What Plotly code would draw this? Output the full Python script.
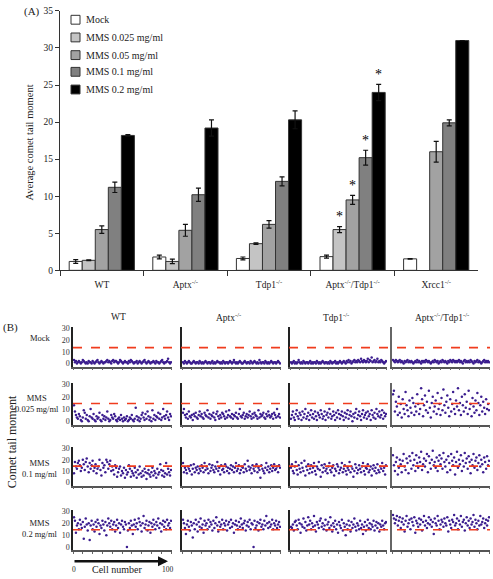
import numpy as np
import plotly.graph_objects as go

W, H = 493, 579
def px(x): return x / W
def py(y): return 1 - y / H

SERIF = "Liberation Serif, Times New Roman, serif"

# ---------------- Panel A data ----------------
groups = ["WT", "Aptx<sup>-/-</sup>", "Tdp1<sup>-/-</sup>",
          "Aptx<sup>-/-</sup>/Tdp1<sup>-/-</sup>", "Xrcc1<sup>-/-</sup>"]
doses = ["Mock", "MMS 0.025 mg/ml", "MMS 0.05 mg/ml", "MMS 0.1 mg/ml", "MMS 0.2 mg/ml"]
mean_mock = [1.2, 1.8, 1.6, 1.85, 1.55]
mean_025 = [1.35, 1.2, 3.6, 5.5, None]
mean_05 = [5.5, 5.4, 6.2, 9.5, 16.0]
mean_1 = [11.2, 10.2, 12.0, 15.2, 19.9]
mean_2 = [18.2, 19.2, 20.3, 24.0, 31.0]
err_mock = [0.25, 0.25, 0.2, 0.2, 0.05]
err_025 = [0.05, 0.3, 0.1, 0.4, 0]
err_05 = [0.5, 0.8, 0.5, 0.6, 1.4]
err_1 = [0.7, 0.9, 0.6, 1.0, 0.4]
err_2 = [0.1, 1.1, 1.2, 1.1, 0]
bar_colors = ["#ffffff", "#c4c4c4", "#a2a2a2", "#808080", "#000000"]
star_group = groups[3]
star_doses = [1, 2, 3, 4]

# ---------------- Panel B data (comet tail moment per cell) ----------------
col_names = ["WT", "Aptx<sup>-/-</sup>", "Tdp1<sup>-/-</sup>", "Aptx<sup>-/-</sup>/Tdp1<sup>-/-</sup>"]
row_names = ["Mock", "MMS<br>0.025 mg/ml", "MMS<br>0.1 mg/ml", "MMS<br>0.2 mg/ml"]
threshold = [13.6, 14.5, 14.3, 14.5]

mock_wt = [3,1,2,0,1,2,1,0,1,3,2,1,0,1,0,2,1,1,0,2,1,0,1,2,3,1,0,1,2,1,0,1,1,2,3,1,2,1,0,2,3,1,2,2,1,0,1,3,2,1,0,1,2,1,1,0,2,1,3,2,1,0,1,1,2,0,1,2,1,0,1,2,3,1,0,1,2,1,0,1,1,2,1,0,2,1,1,0,1,2,3,1,0,1,1,2,4,1,0,1]
mock_aptx = [1,0,2,1,0,1,2,1,0,0,1,2,1,0,1,1,0,2,1,0,1,0,1,2,1,0,1,1,0,1,2,0,1,0,1,2,1,1,0,1,0,2,1,0,1,1,0,1,2,1,0,1,3,1,0,1,0,1,2,1,0,0,1,2,1,0,1,1,0,2,1,0,1,2,1,0,1,0,3,1,0,1,1,0,2,1,0,1,0,1,2,1,0,1,1,0,1,2,1,0]
mock_tdp1 = [1,0,1,2,0,1,0,1,3,1,0,1,0,2,1,0,1,1,0,1,2,0,1,0,1,1,0,2,1,0,1,0,1,2,1,0,1,1,0,1,0,2,1,0,1,1,2,0,1,0,1,2,1,0,1,2,1,0,2,1,3,1,2,0,1,2,3,1,2,1,3,2,1,4,2,1,3,2,1,2,4,1,3,2,5,1,2,3,1,2,4,1,2,1,3,2,1,0,1,2]
mock_dko = [3,2,1,3,2,1,2,3,1,2,1,0,2,1,2,3,1,2,1,2,1,0,1,2,1,3,1,2,1,0,2,1,2,1,3,2,1,2,1,0,1,2,1,3,2,1,2,0,1,2,1,3,2,1,2,1,0,2,1,3,2,1,3,2,1,2,1,2,3,1,2,1,0,2,3,1,2,1,2,1,3,2,1,0,2,1,2,3,1,2,1,0,1,2,3,1,2,1,2,1]

low_wt = [13,8,5,3,2,6,4,1,0,3,9,7,2,5,1,0,4,10,3,2,6,1,0,4,2,3,7,1,0,5,2,4,1,3,8,2,0,1,5,3,2,6,4,1,0,2,3,1,5,2,0,3,1,2,4,0,1,3,2,5,1,0,2,11,4,1,3,0,2,5,7,3,1,6,2,8,4,1,3,0,9,2,5,1,4,3,7,2,6,1,3,10,4,2,5,8,3,1,6,4]
low_aptx = [7,10,5,3,6,2,8,4,3,5,1,6,4,7,3,2,5,8,4,6,3,2,7,5,4,9,3,6,2,5,4,7,3,1,6,8,4,2,5,3,7,6,4,2,8,3,5,9,4,3,6,2,5,4,7,3,2,6,10,4,3,5,7,2,4,6,3,5,8,4,2,6,3,7,5,4,2,9,3,6,4,5,7,3,2,6,4,8,5,3,4,6,2,7,5,3,10,4,6,3]
low_tdp1 = [2,5,8,3,1,6,9,4,2,7,5,1,8,3,6,10,2,4,7,1,5,9,3,6,2,8,4,1,7,5,3,9,6,2,4,8,1,5,7,3,10,6,2,4,8,5,1,7,3,9,6,2,5,8,4,1,7,3,6,9,2,5,8,4,0,6,3,7,10,2,5,8,4,1,6,9,3,5,7,2,8,4,6,1,9,5,3,7,2,10,6,4,8,3,5,9,2,7,4,6]
low_dko = [22,25,8,16,12,5,20,7,14,3,18,10,6,24,13,9,4,17,11,7,19,15,5,12,8,22,14,6,10,27,18,4,13,21,9,16,7,25,11,3,15,20,8,12,17,6,23,10,14,5,19,9,26,13,7,16,21,11,4,18,8,14,24,10,6,17,12,27,9,15,5,20,13,8,22,11,16,6,25,10,14,4,19,12,7,17,9,23,15,5,13,20,8,16,11,6,18,10,14,9]

mid_wt = [8,18,14,12,17,19,15,10,13,20,16,11,18,21,14,9,17,12,15,19,10,13,16,8,12,14,20,11,6,17,13,15,9,20,18,12,16,19,10,14,11,7,15,13,5,9,12,14,6,10,8,13,4,11,7,9,15,12,5,10,8,6,13,9,4,11,7,14,8,5,10,6,12,9,3,8,11,7,5,9,13,6,10,8,4,12,7,9,16,11,6,10,5,8,17,7,12,9,6,11]
mid_aptx = [17,9,13,11,8,14,12,10,15,7,12,16,9,13,11,14,8,12,10,15,13,9,17,11,14,12,8,16,10,13,15,11,9,14,12,18,10,13,7,15,11,12,9,16,14,10,13,8,12,15,11,14,9,13,17,10,12,15,8,11,14,13,9,16,12,10,19,14,11,13,8,15,12,10,14,16,9,13,11,4,15,12,10,8,13,17,11,14,9,12,15,10,13,16,11,12,14,9,15,13]
mid_tdp1 = [13,16,10,8,14,18,11,7,15,12,9,17,13,10,19,6,14,11,16,8,12,15,9,13,17,10,7,14,12,18,11,5,15,9,13,16,10,12,8,14,17,11,9,13,15,6,12,10,16,14,8,11,13,17,9,12,15,10,7,13,11,18,9,14,12,5,10,16,13,8,11,15,12,9,14,17,10,7,13,12,16,9,11,14,6,12,15,10,13,8,16,11,9,14,12,17,10,13,7,15]
mid_dko = [24,15,10,18,22,7,13,20,16,9,19,25,14,11,21,17,8,23,19,12,26,15,20,10,24,17,13,22,18,27,11,16,21,14,19,25,9,23,17,12,20,28,15,18,13,22,10,19,24,16,21,12,26,18,14,20,9,23,17,11,25,19,15,22,7,18,27,13,20,16,24,10,19,14,26,17,21,12,23,18,8,20,15,25,13,19,22,11,17,24,14,20,16,9,22,18,12,23,15,19]

high_wt = [25,22,12,18,20,15,23,19,16,21,7,17,24,19,14,20,6,18,22,15,19,13,21,17,23,20,11,18,16,22,19,14,21,10,18,24,20,17,22,15,19,21,13,18,23,16,20,12,19,22,17,15,21,19,0,14,20,16,22,18,11,19,23,17,20,15,24,21,18,13,20,26,16,19,22,14,18,21,12,20,17,23,19,15,21,18,24,16,20,13,19,22,17,21,15,23,18,20,16,22]
high_aptx = [23,20,16,11,19,22,17,14,21,18,8,20,15,23,19,13,21,17,24,16,19,12,22,18,20,15,23,17,21,19,14,22,16,20,25,18,13,21,17,19,23,15,20,18,22,14,19,21,16,23,17,20,12,19,22,18,15,21,17,24,19,16,20,22,14,18,21,17,23,15,20,19,0,22,16,18,21,14,20,23,17,19,15,22,18,26,20,16,21,17,19,23,15,20,18,22,16,19,21,17]
high_tdp1 = [17,16,19,14,21,22,18,15,23,20,12,19,17,24,16,21,14,18,25,19,22,15,20,17,26,18,13,21,19,16,22,24,17,20,15,18,23,14,19,21,16,25,18,13,20,17,22,15,19,12,21,18,16,23,14,20,17,10,19,15,22,18,13,21,16,19,24,17,14,20,18,15,22,16,19,11,17,21,14,18,23,16,20,15,19,17,22,14,18,21,16,20,13,19,17,22,18,15,20,21]
high_dko = [27,24,20,23,26,18,22,25,16,21,24,19,13,22,26,17,20,23,15,24,21,18,25,12,22,20,17,24,19,23,14,21,26,18,22,16,20,25,19,23,17,21,11,24,20,18,26,22,15,19,23,21,17,24,20,18,25,13,22,19,16,23,21,27,18,20,24,15,22,19,26,17,21,23,14,20,25,18,22,16,24,19,21,27,17,23,20,15,22,18,26,19,21,24,16,20,23,18,22,25]

panel_data = [
    [mock_wt, mock_aptx, mock_tdp1, mock_dko],
    [low_wt, low_aptx, low_tdp1, low_dko],
    [mid_wt, mid_aptx, mid_tdp1, mid_dko],
    [high_wt, high_aptx, high_tdp1, high_dko],
]

# ---------------- figure ----------------
fig = go.Figure()
means = [mean_mock, mean_025, mean_05, mean_1, mean_2]
errs = [err_mock, err_025, err_05, err_1, err_2]
for i in range(5):
    fig.add_trace(go.Bar(
        x=groups, y=means[i], name=doses[i], showlegend=False,
        marker=dict(color=bar_colors[i], line=dict(color="#333333", width=1)),
        error_y=dict(type="data", array=errs[i], visible=True, color="#111111", thickness=1.2, width=2.5),
        xaxis="x", yaxis="y"))

def ann(x, y, text, size, **kw):
    d = dict(x=px(x), y=py(y), xref="paper", yref="paper", text=text, showarrow=False,
             xanchor="center", yanchor="middle", font=dict(family=SERIF, size=size, color="#222"))
    d.update(kw)
    return d

annotations = []
shapes = []
for d in star_doses:
    annotations.append(dict(x=star_group, xref="x", yref="y", y=means[d][3] + errs[d][3] + 1.3,
                            xshift=(d - 2) * 13, text="*", showarrow=False, xanchor="center", yanchor="middle",
                            font=dict(family=SERIF, size=14, color="#000000")))

# legend (drawn from dose names and bar colours)
leg_y = [15, 33, 51, 68, 86]
for i in range(5):
    shapes.append(dict(type="rect", xref="paper", yref="paper", x0=px(71), x1=px(80),
                       y0=py(leg_y[i] + 4.5), y1=py(leg_y[i] - 4.5), fillcolor=bar_colors[i],
                       line=dict(color="#333", width=1)))
    annotations.append(ann(84, leg_y[i], doses[i], 10, xanchor="left"))

layout = dict(
    width=W, height=H, margin=dict(l=0, r=0, t=0, b=0),
    paper_bgcolor="white", plot_bgcolor="white",
    barmode="group", bargap=0.22, bargroupgap=0,
    showlegend=False,
    xaxis=dict(domain=[px(60), px(478)], anchor="y", type="category", showline=True, linecolor="#333",
               linewidth=1.2, ticks="outside", tickson="boundaries", ticklen=5, tickcolor="#333",
               ticklabelstandoff=5,
               tickfont=dict(family=SERIF, size=9.5, color="#222"), showgrid=False),
    yaxis=dict(domain=[py(270), py(6)], anchor="x", range=[0, 35], dtick=5, showline=True, linecolor="#333",
               linewidth=1.2, ticks="outside", ticklen=4, tickcolor="#333", showgrid=False, zeroline=False,
               tickfont=dict(family=SERIF, size=9.5, color="#222")),
)

annotations += [
    ann(32, 7, "(A)", 11),
    ann(30, 140, "Average comet tail moment", 10.5, textangle=-90),
    ann(10, 328, "(B)", 11),
    ann(12, 445, "Comet tail moment", 12, textangle=-90),
]

col_px = [(73, 172), (182, 281), (290, 387), (392, 490)]
row_px = [(328, 368), (385, 427), (450, 489), (514, 555)]
col_head_x = [118, 228, 336, 442]
row_label_y = [339, 405, 472, 533]
row_label_x = [40, 37, 40, 40]

k = 2
for r in range(4):
    first_y = None
    for c in range(4):
        xa, ya = f"xaxis{k}", f"yaxis{k}"
        xr, yr = f"x{k}", f"y{k}"
        vals = panel_data[r][c]
        cells = np.arange(1, len(vals) + 1)
        fig.add_trace(go.Scatter(x=cells, y=vals, mode="markers", xaxis=xr, yaxis=yr, showlegend=False,
                                 marker=dict(color="#3b1d8f", size=2.5, line=dict(width=0))))
        axcol = "#222" if c < 3 else "#666"
        layout[xa] = dict(domain=[px(col_px[c][0]), px(col_px[c][1])], anchor=yr, range=[0, 101],
                          showline=True, linecolor="#555", linewidth=1.5, ticks="outside", ticklen=2,
                          tickcolor="#666", dtick=10, showticklabels=False, showgrid=False, zeroline=False)
        layout[ya] = dict(domain=[py(row_px[r][1]), py(row_px[r][0])], anchor=xr, range=[-2.8, 31],
                          showline=True, linecolor=axcol, linewidth=1.5, showgrid=False, zeroline=False,
                          tickvals=[0, 10, 20, 30], showticklabels=(c == 0), ticks="",
                          tickfont=dict(family=SERIF, size=8, color="#333"))
        if c == 0:
            first_y = yr
        k += 1
    shapes.append(dict(type="line", xref="paper", yref=first_y, x0=px(73), x1=px(490),
                       y0=threshold[r], y1=threshold[r], line=dict(color="#f03c1e", width=1.6, dash="dash")))
    annotations.append(ann(row_label_x[r], row_label_y[r], row_names[r], 8.5, align="center"))

for c in range(4):
    annotations.append(ann(col_head_x[c], 317, col_names[c], 9.5))

# Cell number arrow
annotations += [
    dict(x=px(168), y=py(566), xref="paper", yref="paper", ax=-95, ay=0,
         text="", showarrow=True, arrowhead=2, arrowsize=0.8, arrowwidth=2.5, arrowcolor="#111"),
    ann(74, 574, "0", 7.5),
    ann(117, 574, "Cell number", 10),
    ann(168, 574, "100", 7.5),
]

layout["annotations"] = annotations
layout["shapes"] = shapes
fig.update_layout(**layout)
fig.write_html("out.html", config={"displayModeBar": False},
               post_script="document.body.style.margin='0px';document.body.style.overflow='hidden';")
